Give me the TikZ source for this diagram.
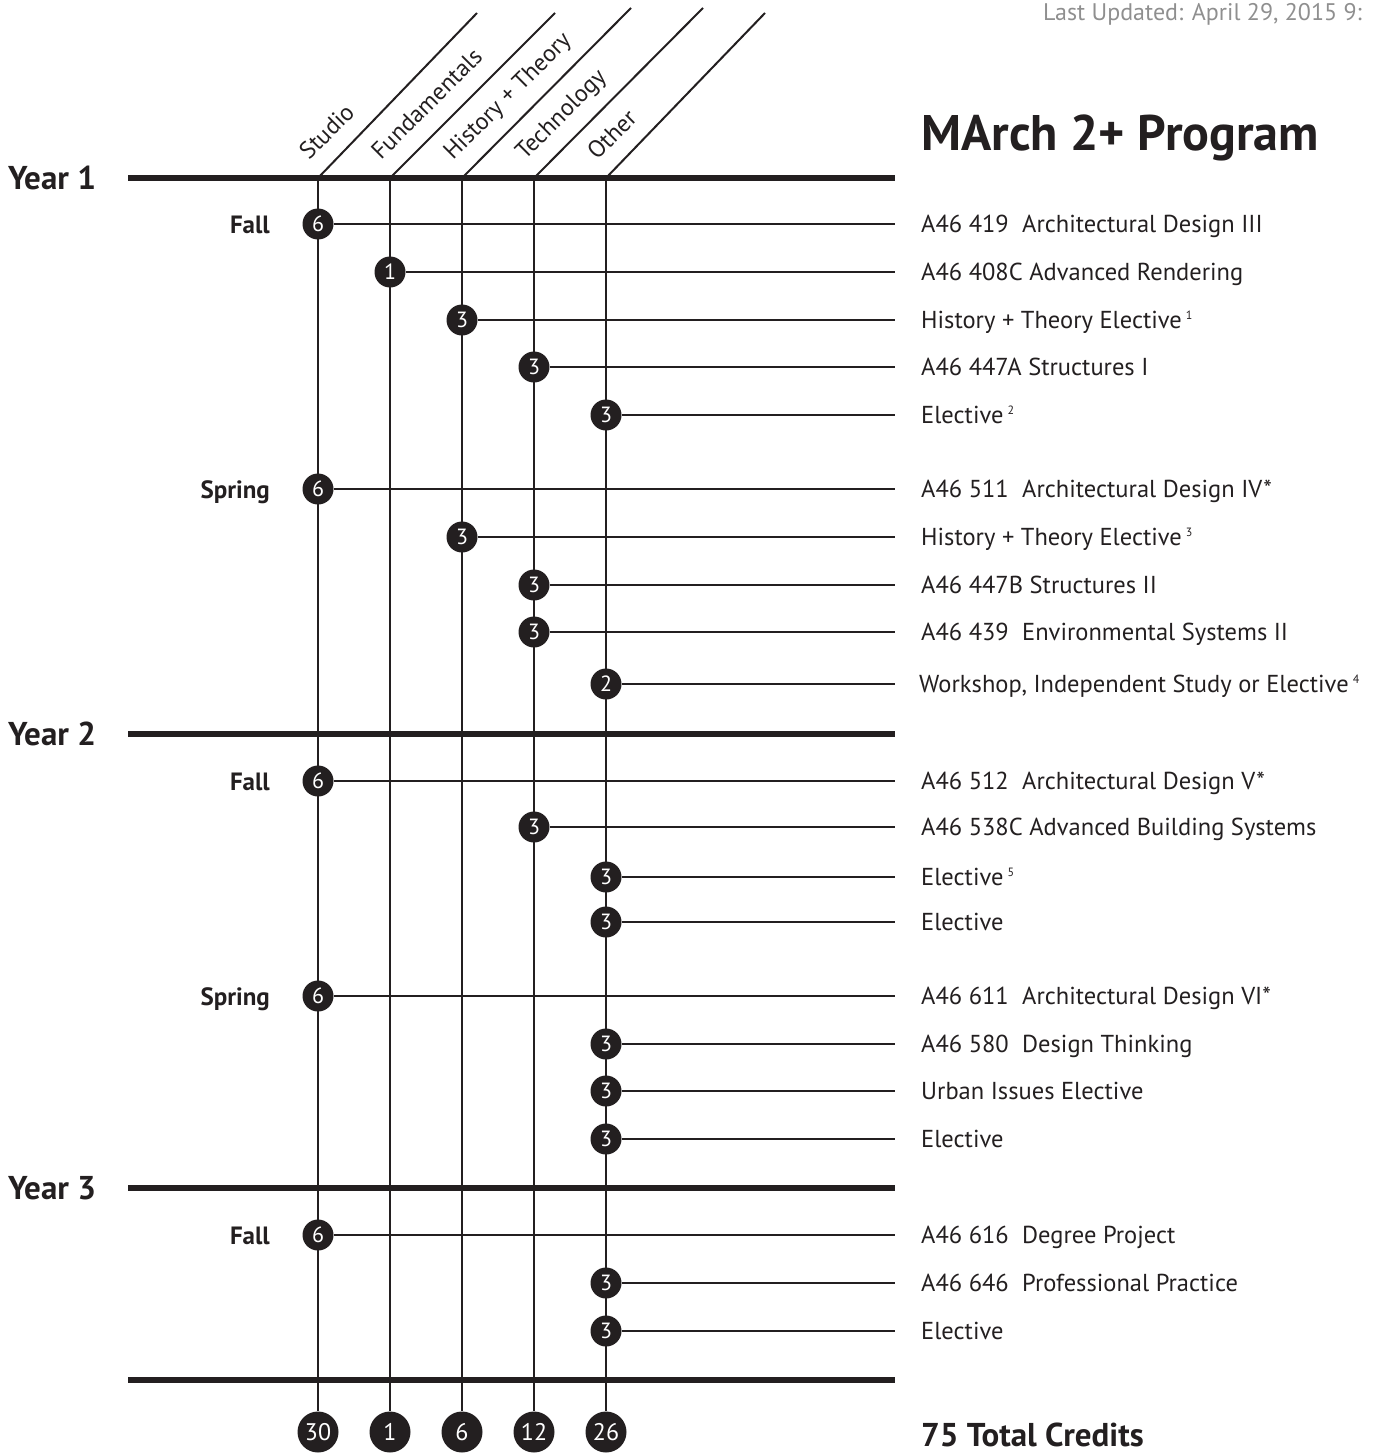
\documentclass[tikz,border=0pt]{standalone}
\usepackage{fontspec}
\setmainfont{PT Sans}
\newlength{\du}
\setlength{\du}{1pt}
\definecolor{dialinecolor}{rgb}{0.137255, 0.121569, 0.125490}
\definecolor{updatecolor}{rgb}{0.560000, 0.560000, 0.560000}
\newcommand{\coursecode}[1]{\makebox[101\du][l]{#1}}
\newcommand{\fnmark}[1]{\,{\fontsize{12}{12}\selectfont\raisebox{9\du}{#1}}}
\tikzset{
  credit/.style={circle, fill=dialinecolor, text=white, inner sep=0pt, minimum size=31\du, font=\fontsize{22}{22}\selectfont},
  total/.style={credit, minimum size=41\du, font=\fontsize{24}{24}\selectfont},
  course/.style={anchor=base west, inner sep=0pt, text=dialinecolor, font=\fontsize{24.5}{24.5}\selectfont},
  term/.style={anchor=base east, inner sep=0pt, text=dialinecolor, font=\bfseries\fontsize{25}{25}\selectfont},
  yearlabel/.style={anchor=base west, inner sep=0pt, text=dialinecolor, font=\bfseries\fontsize{33}{33}\selectfont},
  category/.style={anchor=base west, inner sep=0pt, rotate=45, text=dialinecolor, font=\fontsize{24}{24}\selectfont},
  yearrule/.style={draw=dialinecolor, line width=5.5\du},
  thinline/.style={draw=dialinecolor, line width=2.5\du},
  diagline/.style={draw=dialinecolor, line width=2\du}
}
\begin{document}
\begin{tikzpicture}
\pgftransformxscale{1.000000}
\pgftransformyscale{-1.000000}
\useasboundingbox (0\du,0\du) rectangle (1378\du,1453\du);
% column heads
\coordinate (studio) at (318\du,178\du);
\coordinate (fundamentals) at (390\du,178\du);
\coordinate (history) at (462\du,178\du);
\coordinate (technology) at (534\du,178\du);
\coordinate (other) at (606\du,178\du);
\coordinate (studiotop) at (477\du,13\du);
\coordinate (fundamentalstop) at (555\du,13\du);
\coordinate (historytop) at (631\du,8\du);
\coordinate (technologytop) at (703\du,8\du);
\coordinate (othertop) at (765\du,13\du);
\draw[diagline] (studio)--(studiotop);
\draw[diagline] (fundamentals)--(fundamentalstop);
\draw[diagline] (history)--(historytop);
\draw[diagline] (technology)--(technologytop);
\draw[diagline] (other)--(othertop);
\node[category] (studiolabel) at (309\du,161\du){Studio};
\node[category] (fundamentalslabel) at (381\du,161\du){Fundamentals};
\node[category] (historylabel) at (453\du,161\du){History + Theory};
\node[category] (technologylabel) at (525\du,161\du){Technology};
\node[category] (otherlabel) at (597\du,161\du){Other};
% title
\node[anchor=base west, inner sep=0pt, text=updatecolor, font=\fontsize{24}{24}\selectfont] (updated) at (1043\du,21\du){Last Updated: April 29, 2015 9:};
\node[anchor=base west, inner sep=0pt, text=dialinecolor, font=\bfseries\fontsize{50}{50}\selectfont] (title) at (921\du,150\du){MArch 2+ Program};
% columns
\node[total] (sumstudio) at (318\du,1432\du){30};
\node[total] (sumfundamentals) at (390\du,1432\du){1};
\node[total] (sumhistory) at (462\du,1432\du){6};
\node[total] (sumtechnology) at (534\du,1432\du){12};
\node[total] (sumother) at (606\du,1432\du){26};
\draw[thinline] (studio)--(sumstudio.north);
\draw[thinline] (fundamentals)--(sumfundamentals.north);
\draw[thinline] (history)--(sumhistory.north);
\draw[thinline] (technology)--(sumtechnology.north);
\draw[thinline] (other)--(sumother.north);
% years
\draw[yearrule] (128\du,178\du)--(895\du,178\du);
\draw[yearrule] (128\du,734\du)--(895\du,734\du);
\draw[yearrule] (128\du,1188\du)--(895\du,1188\du);
\draw[yearrule] (128\du,1380\du)--(895\du,1380\du);
\node[yearlabel] (year1) at (8\du,189\du){Year 1};
\node[yearlabel] (year2) at (8\du,745\du){Year 2};
\node[yearlabel] (year3) at (8\du,1199\du){Year 3};
\node[term] (fall1) at (270\du,233\du){Fall};
\node[term] (spring1) at (270\du,498\du){Spring};
\node[term] (fall2) at (270\du,790\du){Fall};
\node[term] (spring2) at (270\du,1005\du){Spring};
\node[term] (fall3) at (270\du,1244\du){Fall};
% year 1, fall
\node[credit] (c1) at (318\du,224\du){6};
\node[credit] (c2) at (390\du,272\du){1};
\node[credit] (c3) at (462\du,320\du){3};
\node[credit] (c4) at (534\du,367\du){3};
\node[credit] (c5) at (606\du,415\du){3};
% year 1, spring
\node[credit] (c6) at (318\du,489\du){6};
\node[credit] (c7) at (462\du,537\du){3};
\node[credit] (c8) at (534\du,585\du){3};
\node[credit] (c9) at (534\du,632\du){3};
\node[credit] (c10) at (606\du,684\du){2};
% year 2, fall
\node[credit] (c11) at (318\du,781\du){6};
\node[credit] (c12) at (534\du,827\du){3};
\node[credit] (c13) at (606\du,877\du){3};
\node[credit] (c14) at (606\du,922\du){3};
% year 2, spring
\node[credit] (c15) at (318\du,996\du){6};
\node[credit] (c16) at (606\du,1044\du){3};
\node[credit] (c17) at (606\du,1091\du){3};
\node[credit] (c18) at (606\du,1139\du){3};
% year 3, fall
\node[credit] (c19) at (318\du,1235\du){6};
\node[credit] (c20) at (606\du,1283\du){3};
\node[credit] (c21) at (606\du,1331\du){3};
% line ends
\coordinate (e1) at (895\du,224\du);
\coordinate (e2) at (895\du,272\du);
\coordinate (e3) at (895\du,320\du);
\coordinate (e4) at (895\du,367\du);
\coordinate (e5) at (895\du,415\du);
\coordinate (e6) at (895\du,489\du);
\coordinate (e7) at (895\du,537\du);
\coordinate (e8) at (895\du,585\du);
\coordinate (e9) at (895\du,632\du);
\coordinate (e10) at (895\du,684\du);
\coordinate (e11) at (895\du,781\du);
\coordinate (e12) at (895\du,827\du);
\coordinate (e13) at (895\du,877\du);
\coordinate (e14) at (895\du,922\du);
\coordinate (e15) at (895\du,996\du);
\coordinate (e16) at (895\du,1044\du);
\coordinate (e17) at (895\du,1091\du);
\coordinate (e18) at (895\du,1139\du);
\coordinate (e19) at (895\du,1235\du);
\coordinate (e20) at (895\du,1283\du);
\coordinate (e21) at (895\du,1331\du);
\draw[thinline] (c1)--(e1);
\draw[thinline] (c2)--(e2);
\draw[thinline] (c3)--(e3);
\draw[thinline] (c4)--(e4);
\draw[thinline] (c5)--(e5);
\draw[thinline] (c6)--(e6);
\draw[thinline] (c7)--(e7);
\draw[thinline] (c8)--(e8);
\draw[thinline] (c9)--(e9);
\draw[thinline] (c10)--(e10);
\draw[thinline] (c11)--(e11);
\draw[thinline] (c12)--(e12);
\draw[thinline] (c13)--(e13);
\draw[thinline] (c14)--(e14);
\draw[thinline] (c15)--(e15);
\draw[thinline] (c16)--(e16);
\draw[thinline] (c17)--(e17);
\draw[thinline] (c18)--(e18);
\draw[thinline] (c19)--(e19);
\draw[thinline] (c20)--(e20);
\draw[thinline] (c21)--(e21);
% courses
\node[course] (t1) at (921\du,232\du){\coursecode{A46 419}Architectural Design III};
\node[course] (t2) at (921\du,280\du){A46 408C Advanced Rendering};
\node[course] (t3) at (921\du,328\du){History + Theory Elective\fnmark{1}};
\node[course] (t4) at (921\du,375\du){A46 447A Structures I};
\node[course] (t5) at (921\du,423\du){Elective\fnmark{2}};
\node[course] (t6) at (921\du,497\du){\coursecode{A46 511}Architectural Design IV*};
\node[course] (t7) at (921\du,545\du){History + Theory Elective\fnmark{3}};
\node[course] (t8) at (921\du,593\du){A46 447B Structures II};
\node[course] (t9) at (921\du,640\du){\coursecode{A46 439}Environmental Systems II};
\node[course] (t10) at (919\du,692\du){Workshop, Independent Study or Elective\fnmark{4}};
\node[course] (t11) at (921\du,789\du){\coursecode{A46 512}Architectural Design V*};
\node[course] (t12) at (921\du,835\du){A46 538C Advanced Building Systems};
\node[course] (t13) at (921\du,885\du){Elective\fnmark{5}};
\node[course] (t14) at (921\du,930\du){Elective};
\node[course] (t15) at (921\du,1004\du){\coursecode{A46 611}Architectural Design VI*};
\node[course] (t16) at (921\du,1052\du){\coursecode{A46 580}Design Thinking};
\node[course] (t17) at (921\du,1099\du){Urban Issues Elective};
\node[course] (t18) at (921\du,1147\du){Elective};
\node[course] (t19) at (921\du,1243\du){\coursecode{A46 616}Degree Project};
\node[course] (t20) at (921\du,1291\du){\coursecode{A46 646}Professional Practice};
\node[course] (t21) at (921\du,1339\du){Elective};
% total
\node[anchor=base west, inner sep=0pt, text=dialinecolor, font=\bfseries\fontsize{33}{33}\selectfont] (credits) at (921\du,1446\du){75 Total Credits};
\end{tikzpicture}
\end{document}
